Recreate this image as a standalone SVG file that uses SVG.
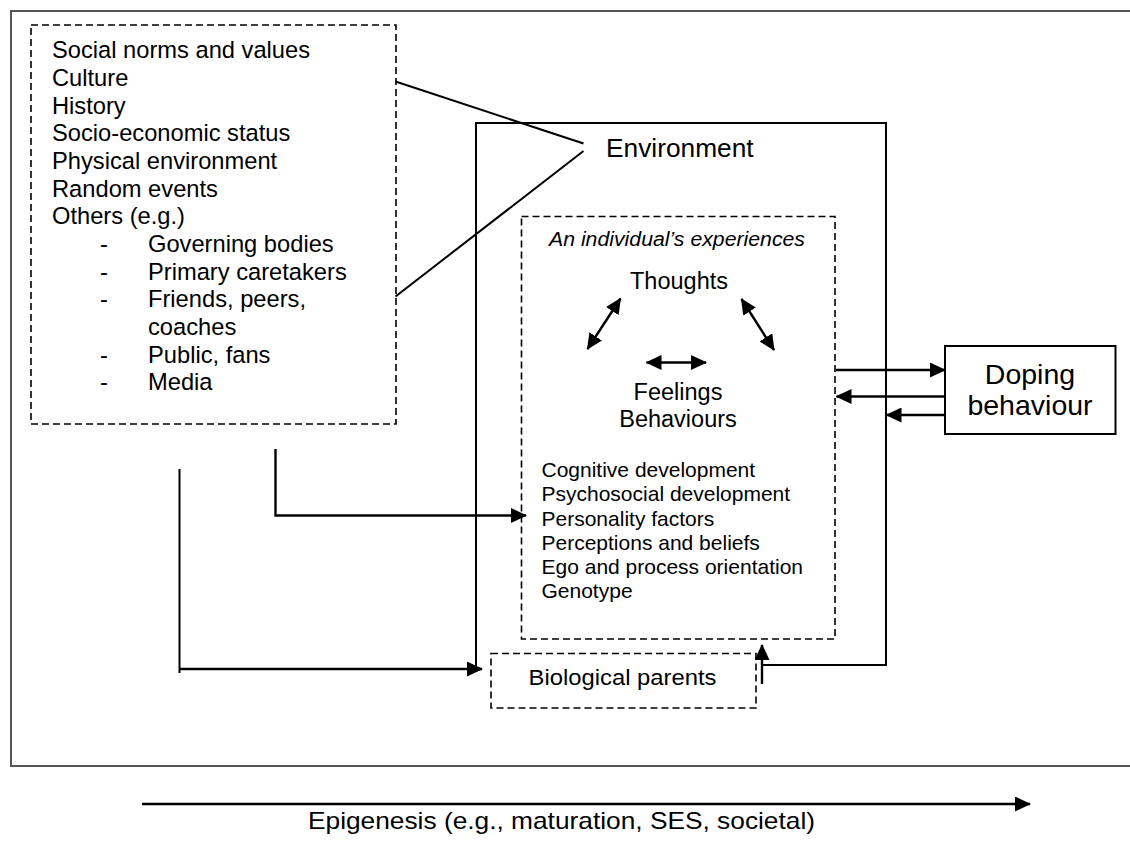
<svg xmlns="http://www.w3.org/2000/svg" width="1130" height="848" viewBox="0 0 1130 848">
<style>
text{font-family:"Liberation Sans",Arial,Helvetica,sans-serif;fill:#000}
.solid{fill:none;stroke:#000;stroke-width:2}
.dash{fill:none;stroke:#000;stroke-width:1.6;stroke-dasharray:7 4}
.con{fill:none;stroke:#000;stroke-width:2}
.arr{fill:none;stroke:#000;stroke-width:2.4}
.lt{font-size:23.7px}
.il{font-size:21px}
.big{font-size:23.5px}
</style>
<defs>
<marker id="ah" viewBox="0 0 16 15" refX="15" refY="7.5" markerWidth="16" markerHeight="15" markerUnits="userSpaceOnUse" orient="auto-start-reverse">
<path d="M0,0 L16,7.5 L0,15 z" fill="#000"/>
</marker>
<marker id="ahs" viewBox="0 0 16 15" refX="15" refY="7.5" markerWidth="16" markerHeight="15" markerUnits="userSpaceOnUse" orient="auto-start-reverse">
<path d="M0,0 L16,7.5 L0,15 z" fill="#000"/>
</marker>
</defs>
<rect x="0" y="0" width="1130" height="848" fill="#fff"/>
<g id="frame">
<rect x="11" y="11" width="1130" height="755" fill="none" stroke="#555" stroke-width="2"/>
</g>
<g id="social-factors">
<rect class="dash" x="31" y="25" width="365" height="399"/>
<text class="lt" x="52" y="58">Social norms and values</text>
<text class="lt" x="52" y="86">Culture</text>
<text class="lt" x="52" y="113.5">History</text>
<text class="lt" x="52" y="141">Socio-economic status</text>
<text class="lt" x="52" y="169">Physical environment</text>
<text class="lt" x="52" y="196.5">Random events</text>
<text class="lt" x="52" y="224">Others (e.g.)</text>
<text class="lt" x="100" y="252">-</text><text class="lt" x="148" y="252">Governing bodies</text>
<text class="lt" x="100" y="279.5">-</text><text class="lt" x="148" y="279.5">Primary caretakers</text>
<text class="lt" x="100" y="307">-</text><text class="lt" x="148" y="307">Friends, peers,</text>
<text class="lt" x="148" y="335">coaches</text>
<text class="lt" x="100" y="362.5">-</text><text class="lt" x="148" y="362.5">Public, fans</text>
<text class="lt" x="100" y="390">-</text><text class="lt" x="148" y="390">Media</text>
</g>
<g id="environment">
<polyline class="solid" points="476,667 476,123 886,123 886,665 761,665"/>
<text x="606" y="157" font-size="26.3px">Environment</text>
</g>
<g id="individual">
<rect class="dash" x="521.5" y="216.5" width="313.5" height="422.5"/>
<text x="677" y="246" font-size="20px" font-style="italic" text-anchor="middle" textLength="256" lengthAdjust="spacingAndGlyphs">An individual’s experiences</text>
<text class="big" x="679" y="289" text-anchor="middle">Thoughts</text>
<text class="big" x="678" y="400" text-anchor="middle">Feelings</text>
<text class="big" x="678" y="426.5" text-anchor="middle">Behaviours</text>
<line class="arr" x1="587.5" y1="349" x2="620.5" y2="298.5" marker-start="url(#ahs)" marker-end="url(#ahs)"/>
<line class="arr" x1="741.5" y1="299" x2="774" y2="350" marker-start="url(#ahs)" marker-end="url(#ahs)"/>
<line class="arr" x1="646.5" y1="362.5" x2="706" y2="362.5" marker-start="url(#ahs)" marker-end="url(#ahs)"/>
<text class="il" x="541.5" y="476.5">Cognitive development</text>
<text class="il" x="541.5" y="501">Psychosocial development</text>
<text class="il" x="541.5" y="525.5">Personality factors</text>
<text class="il" x="541.5" y="549.5">Perceptions and beliefs</text>
<text class="il" x="541.5" y="574">Ego and process orientation</text>
<text class="il" x="541.5" y="598">Genotype</text>
</g>
<g id="doping">
<rect class="solid" x="945" y="346" width="170.5" height="88"/>
<text x="1030" y="383.5" font-size="28.5px" text-anchor="middle">Doping</text>
<text x="1030" y="415" font-size="28.5px" text-anchor="middle">behaviour</text>
</g>
<g id="bio-parents">
<rect class="dash" x="491" y="653.5" width="265" height="54.5"/>
<text x="528.5" y="685" font-size="22px" textLength="188" lengthAdjust="spacingAndGlyphs">Biological parents</text>
</g>
<g id="epigenesis">
<line class="arr" x1="142" y1="804" x2="1030" y2="804" marker-end="url(#ah)"/>
<text x="561.5" y="829" font-size="24px" text-anchor="middle" textLength="507" lengthAdjust="spacingAndGlyphs">Epigenesis (e.g., maturation, SES, societal)</text>
</g>
<g id="connectors">
<line class="con" x1="395.5" y1="81.5" x2="583.5" y2="143.5"/>
<line class="con" x1="395.5" y1="296.5" x2="583.5" y2="151"/>
<polyline class="arr" points="275.5,449 275.5,515.5 526,515.5" marker-end="url(#ah)"/>
<line class="con" x1="179.5" y1="469" x2="179.5" y2="673"/>
<line class="arr" x1="179.5" y1="669" x2="482" y2="669" marker-end="url(#ah)"/>
<line class="arr" x1="836" y1="370" x2="945" y2="370" marker-end="url(#ah)"/>
<line class="arr" x1="945" y1="396.5" x2="836.5" y2="396.5" marker-end="url(#ah)"/>
<line class="arr" x1="945" y1="415" x2="886.5" y2="415" marker-end="url(#ah)"/>
<line class="arr" x1="762" y1="684" x2="762" y2="645" marker-end="url(#ah)"/>
</g>
</svg>
